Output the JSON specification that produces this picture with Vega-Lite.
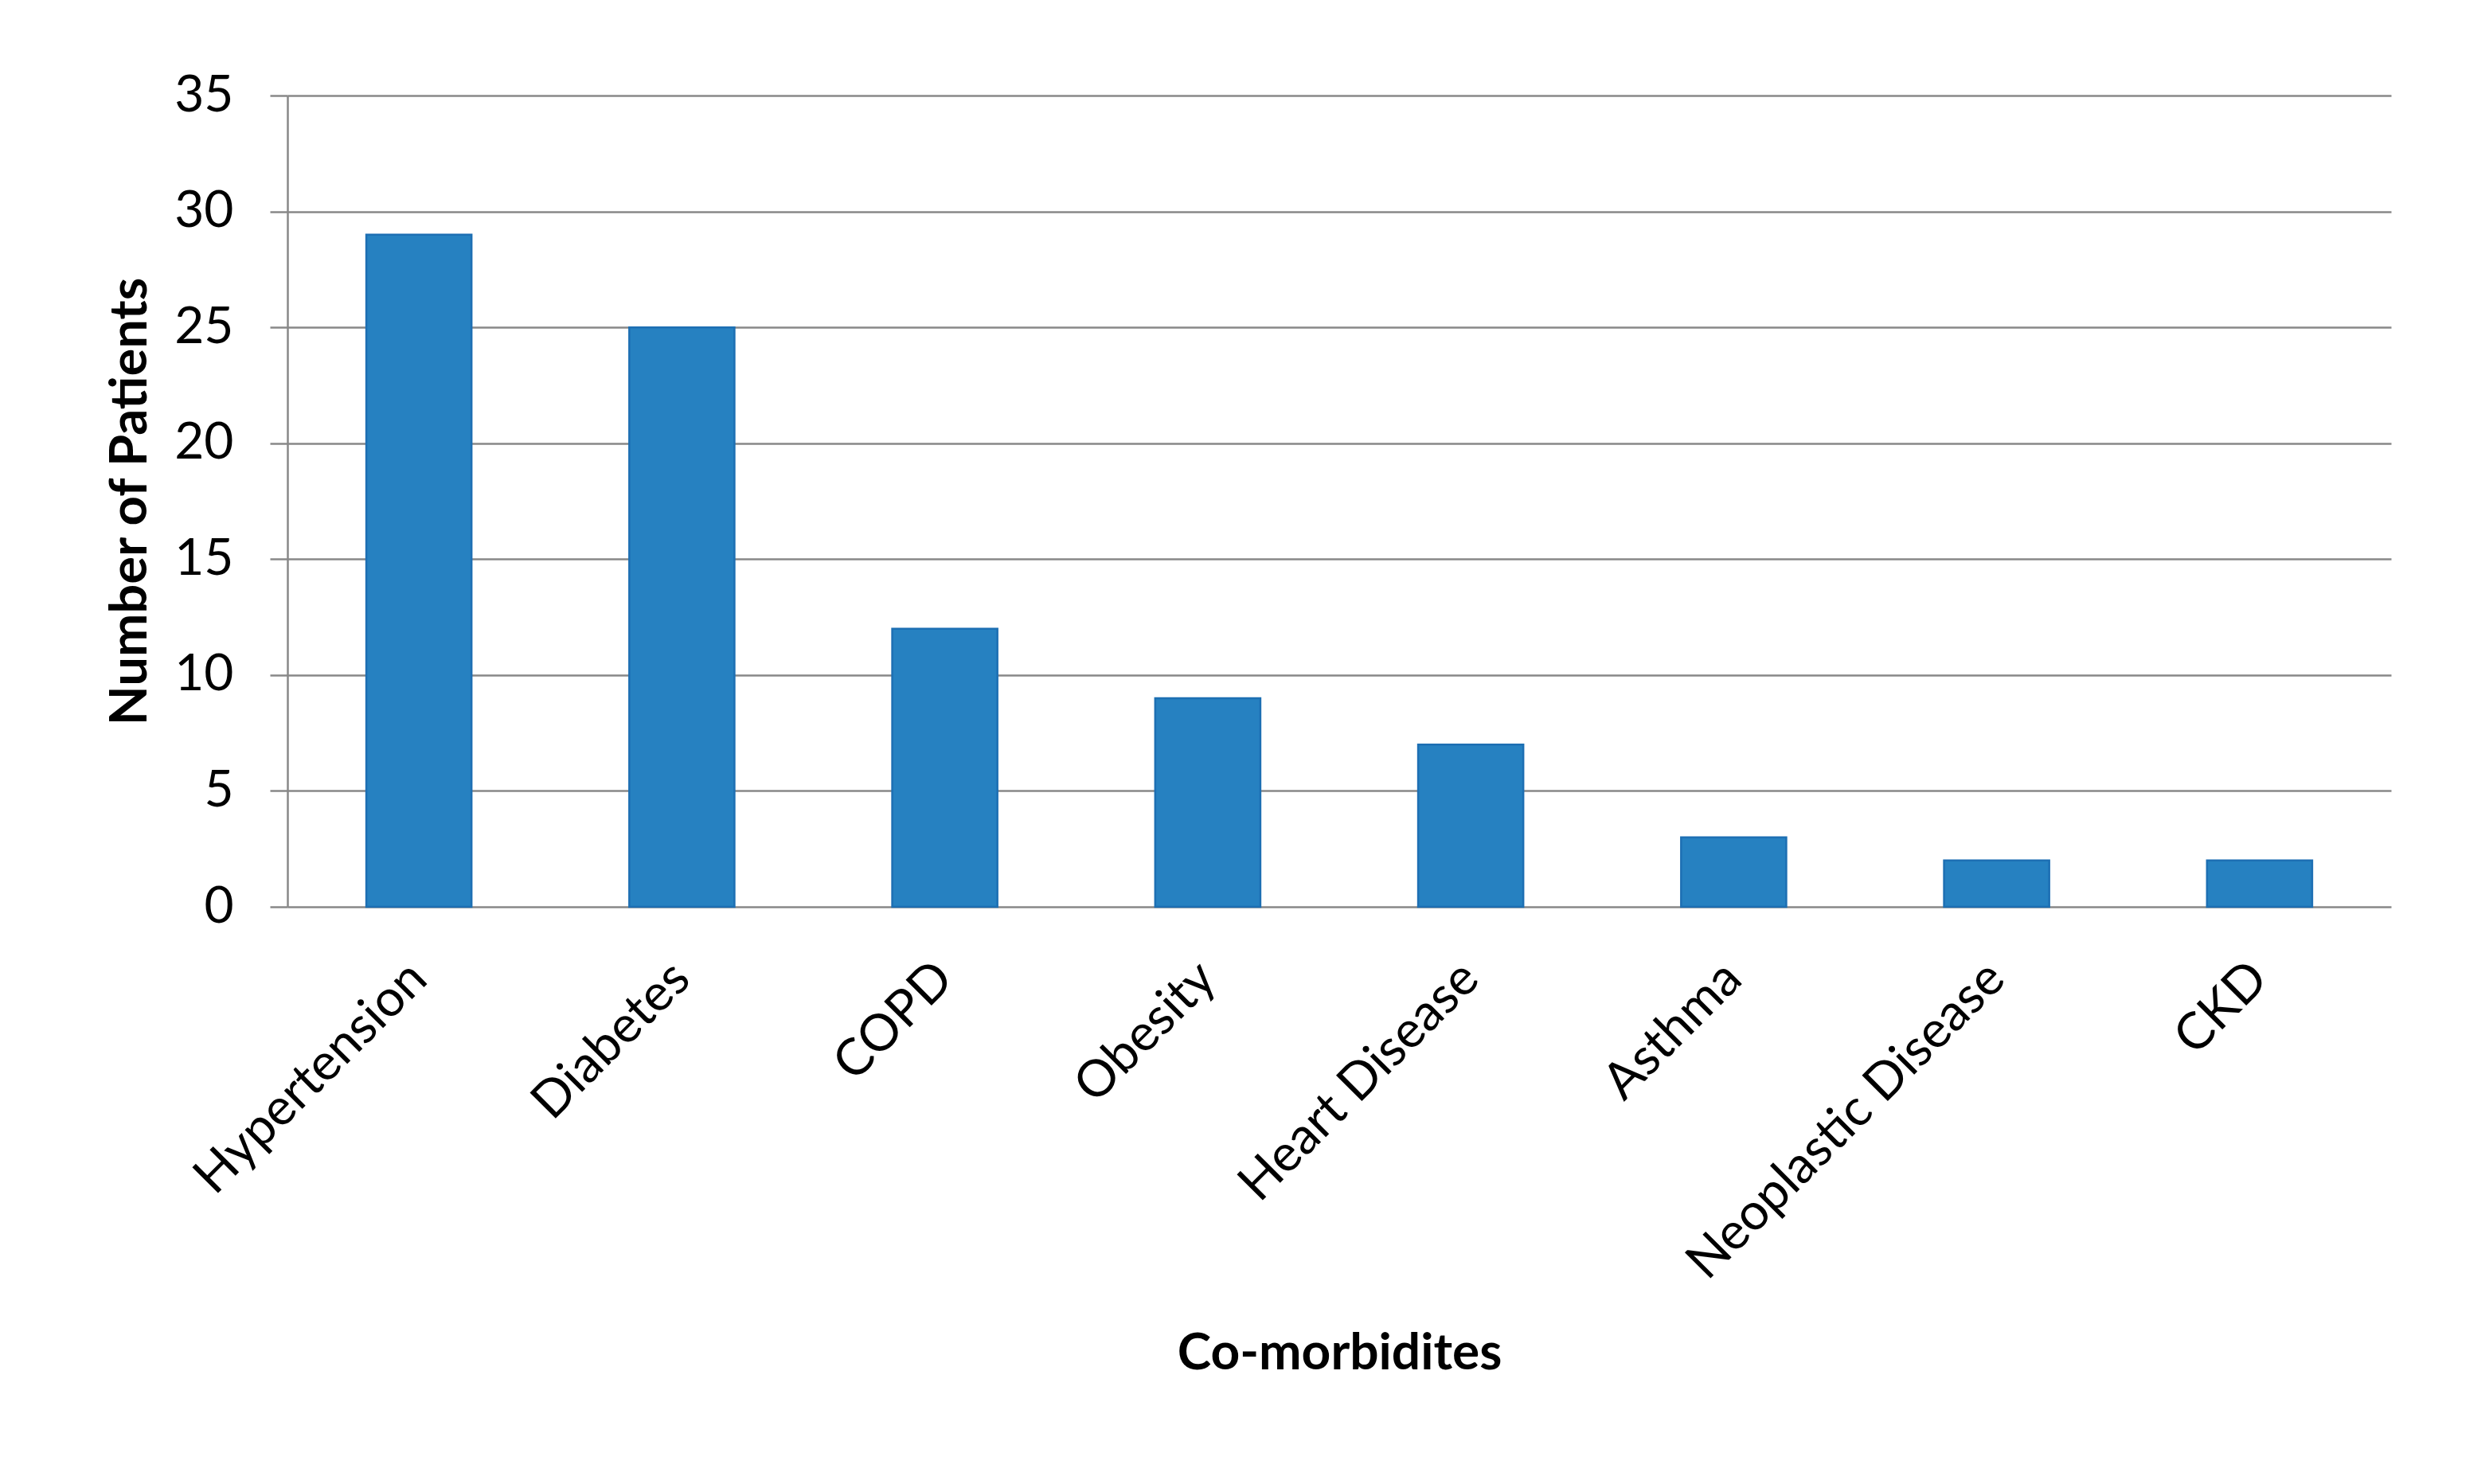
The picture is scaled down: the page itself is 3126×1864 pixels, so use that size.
{
  "$schema": "https://vega.github.io/schema/vega-lite/v6.json",
  "width": 2642,
  "height": 1019,
  "autosize": {"type": "none"},
  "padding": {"left": 361, "top": 120, "right": 123, "bottom": 725},
  "background": "white",
  "config": {
    "view": {"stroke": null},
    "font": "Lato"
  },
  "data": {
    "values": [
      {"condition": "Hypertension", "patients": 29},
      {"condition": "Diabetes", "patients": 25},
      {"condition": "COPD", "patients": 12},
      {"condition": "Obesity", "patients": 9},
      {"condition": "Heart Disease", "patients": 7},
      {"condition": "Asthma", "patients": 3},
      {"condition": "Neoplastic Disease", "patients": 2},
      {"condition": "CKD", "patients": 2}
    ]
  },
  "mark": {"type": "bar", "color": "#2681c1", "stroke": "#1d6fb3", "strokeWidth": 2.5},
  "encoding": {
    "x": {
      "field": "condition",
      "type": "nominal",
      "sort": null,
      "scale": {"paddingInner": 0.6, "paddingOuter": 0.3},
      "axis": {
        "title": "Co-morbidites",
        "titleFont": "Lato",
        "titleFontSize": 64,
        "titleFontWeight": "bold",
        "titleColor": "#000000",
        "titleY": 580,
        "titleBaseline": "alphabetic",
        "labelAngle": -45,
        "labelAlign": "right",
        "labelBaseline": "middle",
        "labelFont": "Lato",
        "labelFontSize": 64,
        "labelColor": "#000000",
        "labelPadding": 80,
        "labelOverlap": false,
        "labelLimit": 0,
        "ticks": false,
        "domain": false
      }
    },
    "y": {
      "field": "patients",
      "type": "quantitative",
      "scale": {"domain": [0, 35], "nice": false},
      "axis": {
        "title": "Number of Patients",
        "titleFont": "Lato",
        "titleFontSize": 65,
        "titleFontWeight": "bold",
        "titleColor": "#000000",
        "titleX": -198,
        "titleBaseline": "middle",
        "values": [0, 5, 10, 15, 20, 25, 30, 35],
        "labelFont": "Lato",
        "labelFontSize": 64,
        "labelColor": "#000000",
        "labelPadding": 46,
        "tickSize": 22,
        "tickColor": "#888888",
        "tickWidth": 2.5,
        "domainColor": "#888888",
        "domainWidth": 2.5,
        "grid": true,
        "gridColor": "#888888",
        "gridWidth": 2.5
      }
    }
  }
}
